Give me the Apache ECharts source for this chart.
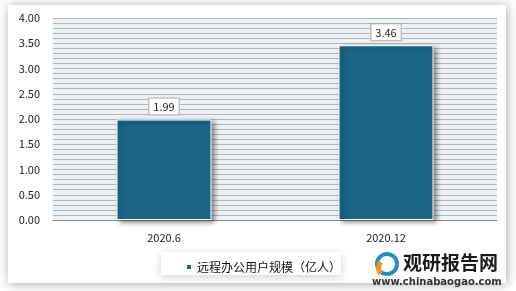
<!DOCTYPE html>
<html><head><meta charset="utf-8">
<script src="https://cdn.jsdelivr.net/npm/echarts@6/dist/echarts.min.js"></script>
<style>html,body{margin:0;padding:0;background:#fff;}#c{width:516px;height:291px;}</style>
</head><body><div id="c"></div>
<script>
var categories = ['2020.6', '2020.12'];
var values = [1.99, 3.46];
var seriesName = '远程办公用户规模（亿人）';
var yTicks = [0, 0.5, 1, 1.5, 2, 2.5, 3, 3.5, 4];

var chart = echarts.init(document.getElementById('c'), null, {renderer: 'canvas'});
var font = '"Microsoft YaHei", "Noto Sans CJK SC", "DejaVu Sans", sans-serif';
chart.setOption({
  backgroundColor: '#ffffff',
  animation: false,
  graphic: [
    {type: 'rect', z: -10, shape: {x: 8, y: 5, width: 498, height: 278},
     style: {fill: '#fff', shadowBlur: 10, shadowColor: 'rgba(0,0,0,0.35)', shadowOffsetX: 1, shadowOffsetY: 1}},
    {type: 'rect', z: 5, shape: {x: 161, y: 252, width: 180, height: 23},
     style: {fill: '#fff', shadowBlur: 8, shadowColor: 'rgba(0,0,0,0.18)', shadowOffsetX: 0, shadowOffsetY: 2}},
    {type: 'text', z: 10, left: 403, top: 253, style: {text: '观研报告网', font: 'bold 19px "Noto Sans CJK SC", sans-serif', fill: '#1a1a1a'}},
    {type: 'text', z: 10, left: 372, top: 277, style: {text: 'www.chinabaogao.com', font: 'bold 10px "DejaVu Sans", sans-serif', fill: '#333'}},
    {type: 'circle', z: 10, shape: {cx: 387, cy: 264, r: 10}, style: {fill: 'none', stroke: '#2a8cc4', lineWidth: 4}},
    {type: 'sector', z: 11, shape: {cx: 387, cy: 268, r: 11, r0: 6, startAngle: 2.4, endAngle: 3.9}, style: {fill: '#f39a1e'}}
  ],
  legend: {
    show: true,
    left: 180, top: 256,
    itemWidth: 6, itemHeight: 6, icon: 'rect',
    textStyle: {fontSize: 12, color: '#111', fontFamily: font},
    data: [seriesName], z: 20
  },
  grid: {left: 53, right: 19, top: 18, bottom: 71, show: true, backgroundColor: '#EDF2F7', borderWidth: 0, containLabel: false},
  xAxis: {
    type: 'category', data: categories,
    axisLine: {show: true, lineStyle: {color: '#8c8c8c', width: 1}},
    axisTick: {show: false},
    axisLabel: {color: '#222', fontSize: 11, margin: 12, fontFamily: font},
    splitLine: {show: false}
  },
  yAxis: {
    type: 'value', min: 0, max: 4, interval: 0.5,
    axisLine: {show: false}, axisTick: {show: false},
    axisLabel: {color: '#222', fontSize: 11, margin: 13, fontFamily: font,
      formatter: function (v) { return v.toFixed(2); }},
    splitLine: {show: true, lineStyle: {color: '#b4b4b4', width: 1}},
    minorTick: {show: false, splitNumber: 5},
    minorSplitLine: {show: true, lineStyle: {color: '#b4b4b4', width: 1}}
  },
  series: [{
    name: seriesName, type: 'bar', data: values, barWidth: 95,
    itemStyle: {color: '#1B6587', borderColor: '#ffffff', borderWidth: 1,
      shadowBlur: 5, shadowColor: 'rgba(0,0,0,0.45)', shadowOffsetX: 3, shadowOffsetY: 2},
    label: {show: true, position: 'top', distance: 5, color: '#222', fontSize: 11, fontFamily: font,
      backgroundColor: '#fff', borderColor: '#aaa', borderWidth: 1, padding: [3, 4, 2, 4],
      formatter: function (p) { return p.value.toFixed(2); }}
  }]
});
</script></body></html>
